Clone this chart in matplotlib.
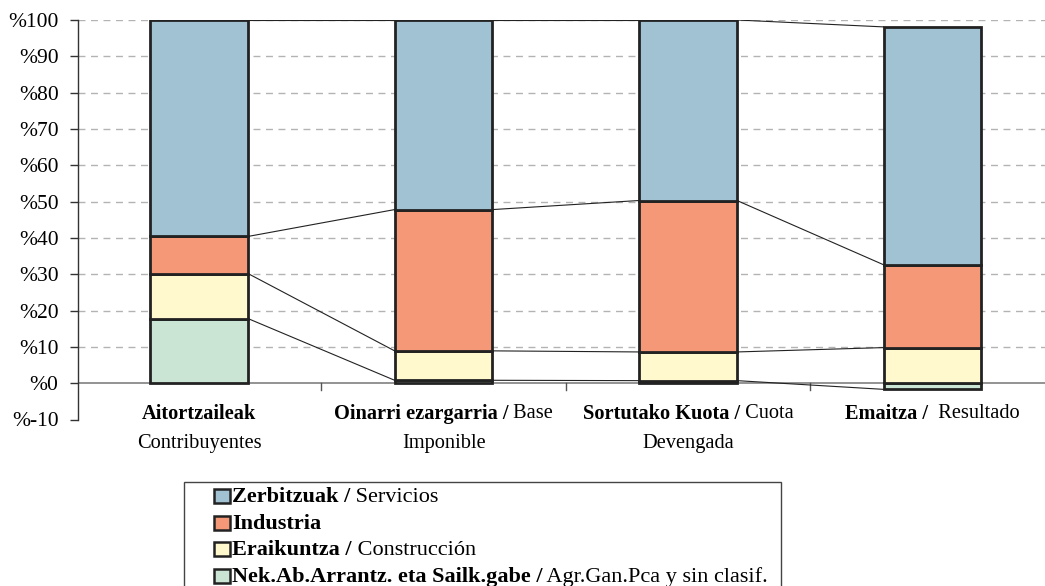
import matplotlib
matplotlib.use('Agg')
import matplotlib.pyplot as plt
from matplotlib.patches import Rectangle
import numpy as np

plt.rcParams['font.family'] = 'serif'
plt.rcParams['font.serif'] = ['Liberation Serif', 'DejaVu Serif']

# ---------------- data ----------------
categories = ['Aitortzaileak', 'Oinarri ezargarria', 'Sortutako Kuota', 'Emaitza']
# each category label: list of lines, each line a list of (text, bold)
cat_labels = [
    [[('Aitortzaileak', True)], [('Contribuyentes', False)]],
    [[('Oinarri ezargarria /', True), (' Base', False)], [('Imponible', False)]],
    [[('Sortutako Kuota /', True), (' Cuota', False)], [('Devengada', False)]],
    [[('Emaitza /', True), ('  Resultado', False)]],
]
series_names = ['Nek.Ab.Arrantz. eta Sailk.gabe', 'Eraikuntza', 'Industria', 'Zerbitzuak']
legend_labels = [
    [('Zerbitzuak /', True), (' Servicios', False)],
    [('Industria', True)],
    [('Eraikuntza /', True), (' Construcción', False)],
    [('Nek.Ab.Arrantz. eta Sailk.gabe /', True), (' Agr.Gan.Pca y sin clasif.', False)],
]
agr = [17.8, 0.8, 0.7, -1.7]
construction = [12.4, 8.1, 7.9, 9.8]
industry = [10.2, 38.9, 41.7, 22.8]
services = [59.6, 52.2, 49.7, 65.5]
yticks = [-10, 0, 10, 20, 30, 40, 50, 60, 70, 80, 90, 100]
ytick_labels = ['%' + str(v) for v in yticks]

colors = ['#CBE5D5', '#FFF9CD', '#F59878', '#A0C2D2']
legend_colors = [colors[3], colors[2], colors[1], colors[0]]

FS = 14.7
FS_LEG = 16

W, H = 1045, 586
fig = plt.figure(figsize=(W / 100, H / 100), dpi=100)
ax = fig.add_axes([78 / W, 1 - 419.5 / H, (W - 78) / W, (419.5 - 20) / H])

x = np.arange(len(categories))
bw = 0.4
data = [np.array(agr), np.array(construction), np.array(industry), np.array(services)]

# gridlines
for v in yticks:
    if v > 0:
        ax.axhline(v, color='#b3b3b3', lw=1.0, ls=(0, (5, 4)), zorder=0)
ax.axhline(0, color='#808080', lw=1.2, zorder=1)

pos_bottom = np.zeros(len(x))
neg_bottom = np.zeros(len(x))
tops = []
for vals, c in zip(data, colors):
    bottom = np.where(vals >= 0, pos_bottom, neg_bottom)
    ax.bar(x, vals, bw, bottom=bottom, color=c, edgecolor='#222222', lw=2.0, zorder=3)
    end = bottom + vals
    tops.append(end)
    pos_bottom = np.where(vals >= 0, end, pos_bottom)
    neg_bottom = np.where(vals < 0, end, neg_bottom)

# series lines
for end in tops:
    for i in range(len(x) - 1):
        ax.plot([x[i] + bw / 2, x[i + 1] - bw / 2], [end[i], end[i + 1]],
                color='#222222', lw=0.8, zorder=2)

ax.set_xlim(-0.495, 3.46)
ax.set_ylim(-10, 100)
for s in ['top', 'right', 'bottom']:
    ax.spines[s].set_visible(False)
ax.spines['left'].set_color('#333333')
ax.spines['left'].set_linewidth(1.0)
ax.set_yticks(yticks)
ax.set_yticklabels(ytick_labels, fontsize=15.5)
ax.tick_params(axis='y', length=6, width=1, color='#333333', pad=8)
ax.set_xticks([])
# category separator ticks on zero line
for i in range(len(x) - 1):
    ax.plot([x[i] + 0.5, x[i] + 0.5], [0, -2], color='#555555', lw=1, zorder=1, clip_on=False)

renderer = fig.canvas.get_renderer()


def mixed_line(segments, cx, cy, fs, ha='center'):
    """Draw a line of mixed bold/normal text; cx, cy in pixels (y from top)."""
    texts = []
    widths = []
    for s, b in segments:
        t = fig.text(0, 0, s, fontsize=fs,
                     fontweight='bold' if b else 'normal', va='center', ha='left')
        widths.append(t.get_window_extent(renderer).width)
        texts.append(t)
    total = sum(widths)
    start = cx - total / 2 if ha == 'center' else cx
    for t, w in zip(texts, widths):
        t.set_position((start / W, 1 - cy / H))
        start += w


for i, lines in enumerate(cat_labels):
    cx_px = ax.transData.transform((x[i], 0))[0]
    for j, line in enumerate(lines):
        mixed_line(line, cx_px, 414 + j * 29.5, FS)

# legend box (manual for mixed font weights)
fig.patches.append(Rectangle((184 / W, 1 - 600 / H), (781 - 184) / W, (600 - 481.5) / H,
                             transform=fig.transFigure, fill=False, ec='#444444', lw=1.0))
for k, (lab, c) in enumerate(zip(legend_labels, legend_colors)):
    cy = 496 + k * 26.7
    fig.patches.append(Rectangle((214 / W, 1 - (cy + 7) / H), 15.5 / W, 14 / H,
                                 transform=fig.transFigure, fc=c, ec='#222222', lw=1.8))
    mixed_line(lab, 232, cy + 1, FS_LEG, ha='left')

fig.savefig('out.png', dpi=100)
